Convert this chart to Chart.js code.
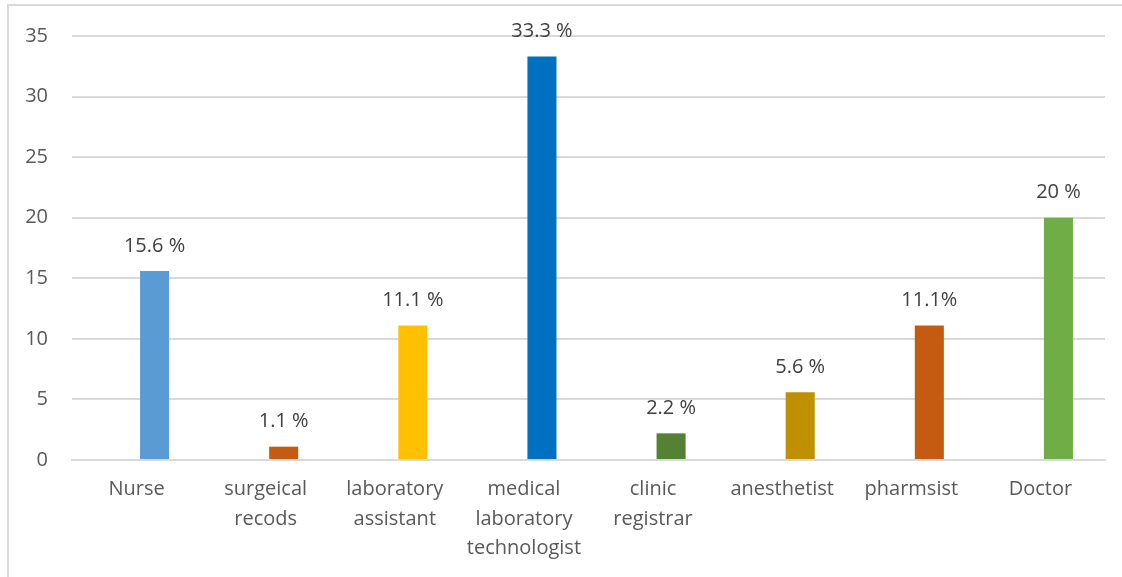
<!DOCTYPE html>
<html>
<head>
<meta charset="utf-8">
<script src="https://cdn.jsdelivr.net/npm/chart.js@4.4.1/dist/chart.umd.min.js"></script>
<style>
  html, body { margin: 0; padding: 0; background: #fff; overflow: hidden; }
  #frame { position: absolute; left: 7px; top: 4px; width: 1200px; height: 700px; border: 2px solid #D9D9D9; box-sizing: border-box; }
  #wrap { position: absolute; left: 0; top: 0; width: 1122px; height: 577px; }
</style>
</head>
<body>
<div id="frame"></div>
<div id="wrap"><canvas id="c" width="1122" height="577"></canvas></div>
<script>
const categories = [
  'Nurse',
  ['surgeical', 'recods'],
  ['laboratory', 'assistant'],
  ['medical', 'laboratory', 'technologist'],
  ['clinic', 'registrar'],
  'anesthetist',
  'pharmsist',
  'Doctor'
];
const percentValues = [15.6, 1.1, 11.1, 33.3, 2.2, 5.6, 11.1, 20];
const valueLabels = ['15.6 %', '1.1 %', '11.1 %', '33.3 %', '2.2 %', '5.6 %', '11.1%', '20 %'];
const barColors = ['#5B9BD5', '#C55A11', '#FFC000', '#0070C0', '#548235', '#BF9000', '#C55A11', '#70AD47'];
const emptySeries = [null, null, null, null, null, null, null, null];

const FONT = '"Open Sans", "Liberation Sans", sans-serif';

const valueLabelPlugin = {
  id: 'valueLabels',
  afterDatasetsDraw(chart) {
    const ctx = chart.ctx;
    const meta = chart.getDatasetMeta(1);
    ctx.save();
    ctx.font = '20px ' + FONT;
    ctx.fillStyle = '#404040';
    ctx.textAlign = 'center';
    ctx.textBaseline = 'middle';
    meta.data.forEach((bar, i) => {
      ctx.fillText(valueLabels[i], bar.x, bar.y - 25);
    });
    ctx.restore();
  }
};

new Chart(document.getElementById('c'), {
  type: 'bar',
  data: {
    labels: categories,
    datasets: [
      { data: emptySeries, backgroundColor: 'transparent' },
      { data: percentValues, backgroundColor: barColors }
    ]
  },
  options: {
    responsive: false,
    animation: false,
    devicePixelRatio: 1,
    categoryPercentage: 0.558,
    barPercentage: 0.806,
    layout: { padding: { top: 34, right: 17, left: 0, bottom: 0 } },
    plugins: { legend: { display: false }, tooltip: { enabled: false } },
    scales: {
      x: {
        grid: { display: false, drawTicks: false },
        border: { display: true, color: '#D9D9D9', width: 2 },
        ticks: { color: '#595959', font: { family: FONT, size: 20, lineHeight: 1.475 }, padding: 15, maxRotation: 0, autoSkip: false },
        afterFit(scale) { scale.height = 117; }
      },
      y: {
        min: 0, max: 35,
        ticks: { stepSize: 5, color: '#595959', font: { family: FONT, size: 20 }, padding: 24 },
        grid: { color: '#D9D9D9', lineWidth: 2, drawTicks: false },
        border: { display: false },
        afterFit(scale) { scale.width = 72; }
      }
    }
  },
  plugins: [valueLabelPlugin]
});
</script>
</body>
</html>
